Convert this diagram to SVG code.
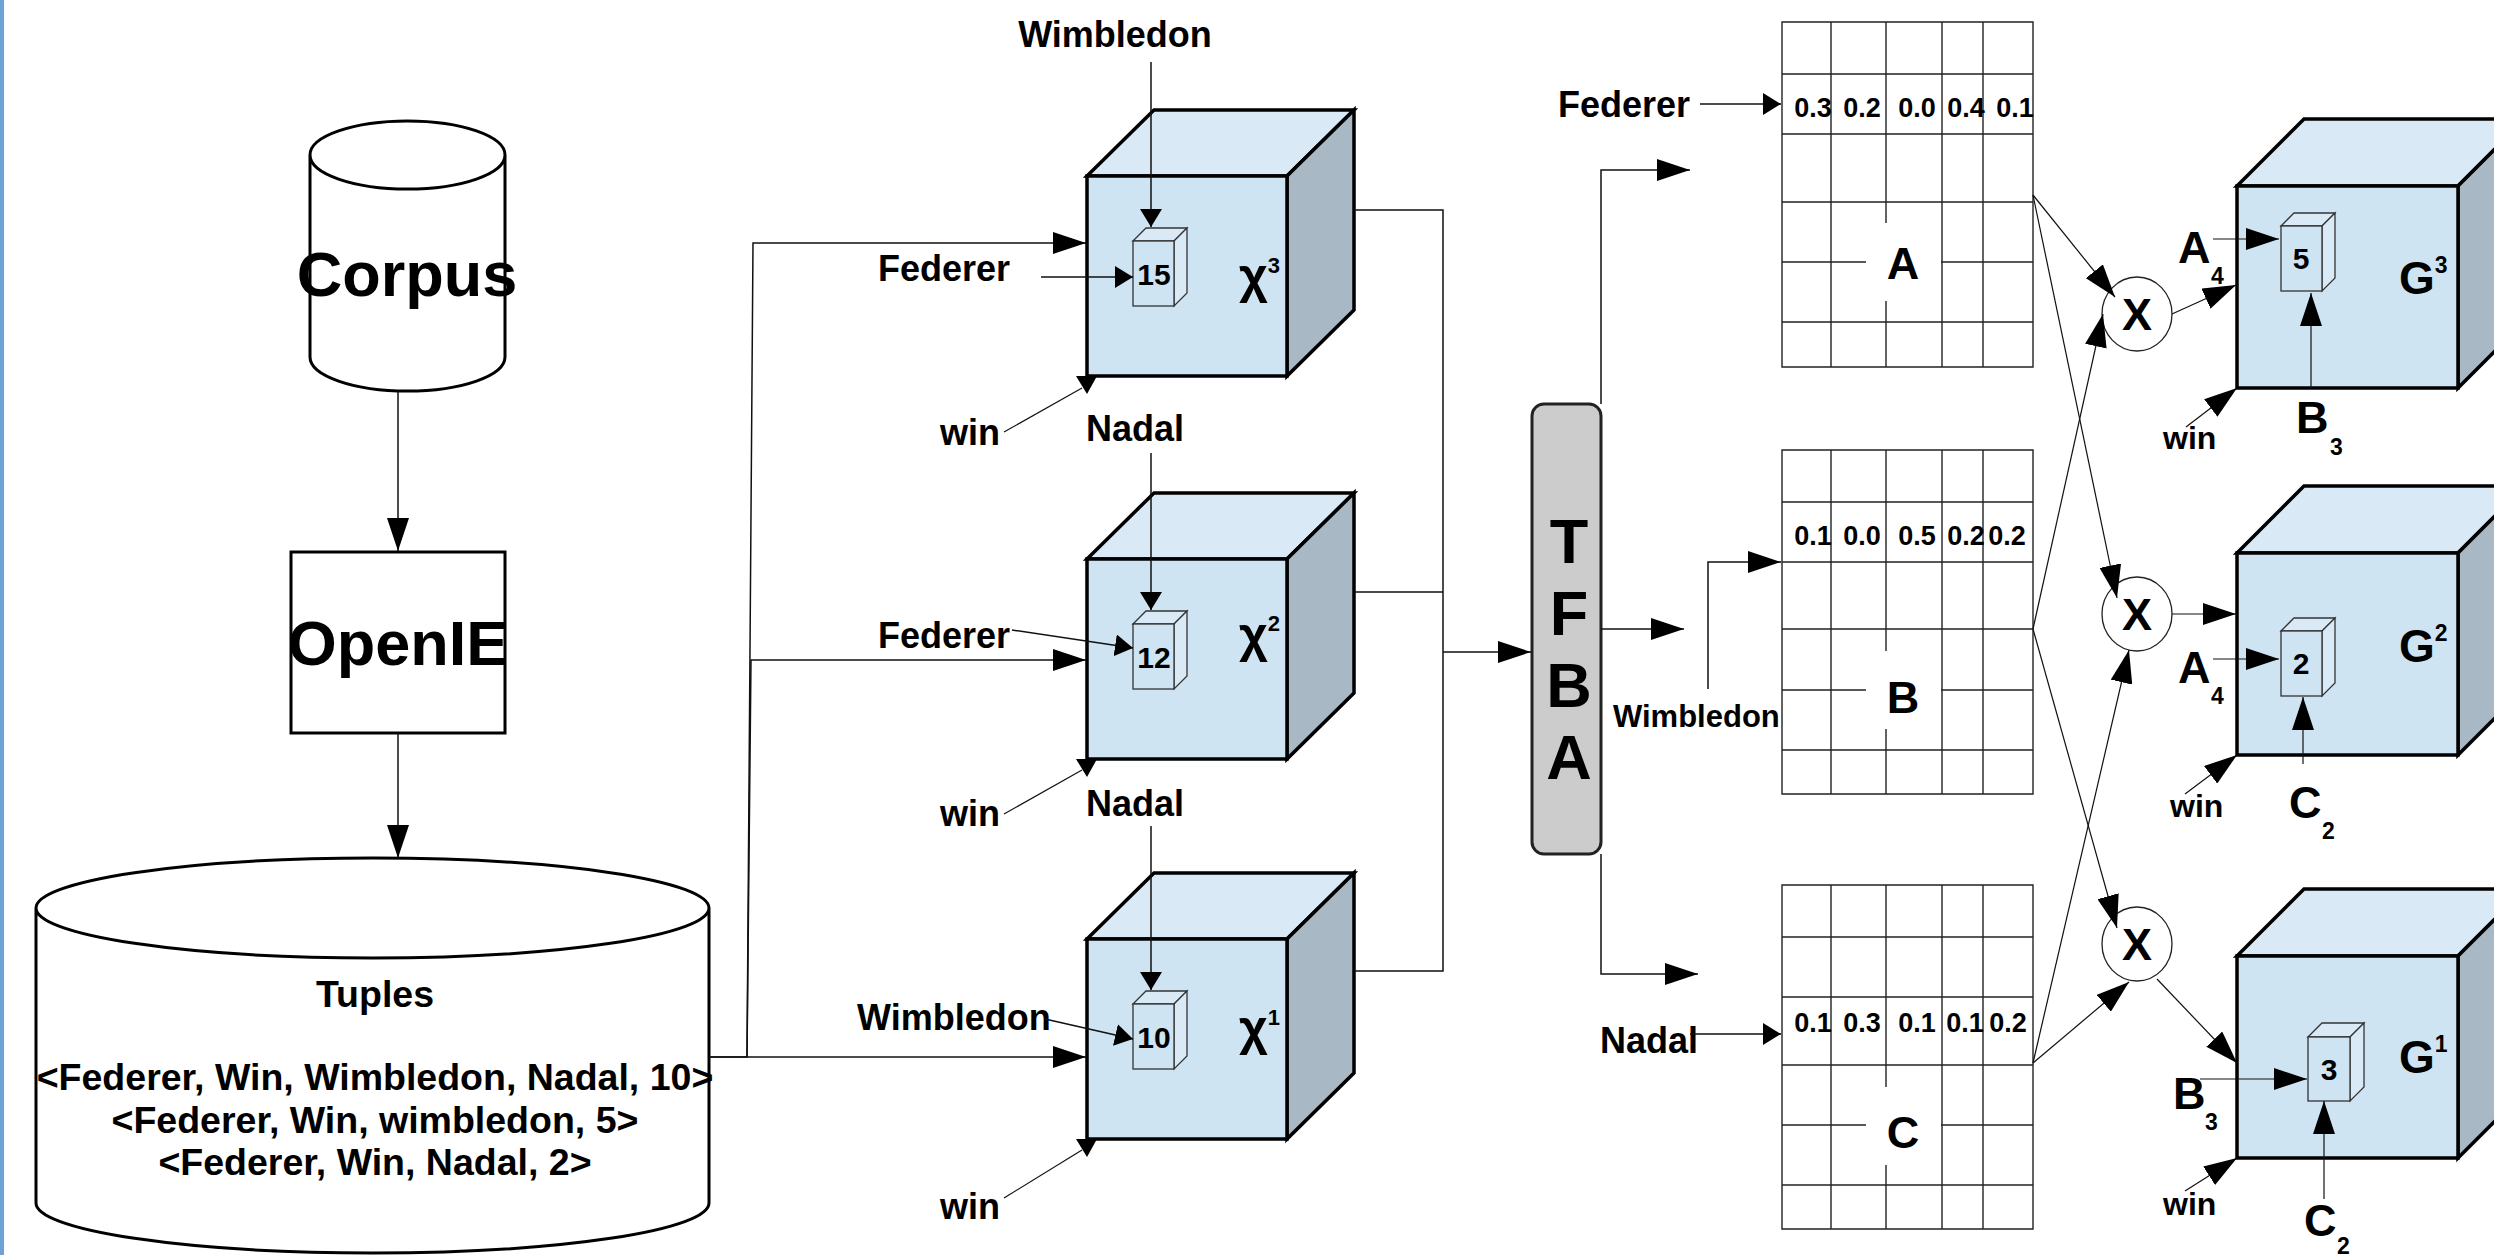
<svg xmlns="http://www.w3.org/2000/svg" width="2494" height="1255" viewBox="0 0 2494 1255">
<style>
text{font-family:"Liberation Sans",Arial,sans-serif;font-weight:bold;fill:#000}
.ln{fill:none;stroke:#111;stroke-width:1.5}
.thin{fill:none;stroke:#111;stroke-width:1.2}
.shape{fill:#fff;stroke:#000;stroke-width:3}
.front{fill:#cfe4f2;stroke:#000;stroke-width:3.5;stroke-linejoin:miter}
.top{fill:#d9eaf6;stroke:#000;stroke-width:3.5}
.side{fill:#a8b9c5;stroke:#000;stroke-width:3.5}
.sf{fill:#cfe4f2;stroke:#333;stroke-width:1.3}
.st{fill:#d9eaf6;stroke:#333;stroke-width:1.3}
.grid{fill:none;stroke:#222;stroke-width:1.4}
.circ{fill:#fff;stroke:#222;stroke-width:1.3}
.big{font-size:63px}
.lbl{font-size:36px}
.tup{font-size:37.5px}
.val{font-size:27px}
.num{font-size:30px;text-anchor:middle}
.mid{text-anchor:middle}
</style>
<defs>
<marker id="big" markerWidth="34" markerHeight="22" refX="33" refY="11" orient="auto" markerUnits="userSpaceOnUse"><path d="M0,0L33,11L0,22z" fill="#000"/></marker>
<marker id="sm" markerWidth="19" markerHeight="22" refX="18" refY="11" orient="auto" markerUnits="userSpaceOnUse"><path d="M0,0L18,11L0,22z" fill="#000"/></marker>
</defs>
<rect x="0" y="0" width="4" height="1255" fill="#6fa3d8"/>

<g id="corpus">
<path class="shape" d="M310,155 V357 A97.5,34 0 0 0 505,357 V155 A97.5,34 0 0 0 310,155 A97.5,34 0 0 0 505,155"/>
<text class="big mid" x="407" y="296">Corpus</text>
</g>
<g id="openie">
<rect class="shape" x="291" y="552" width="214" height="181"/>
<text class="big mid" x="398" y="665">OpenIE</text>
</g>
<g id="tuples">
<path class="shape" d="M36,908 V1203 A336.5,50 0 0 0 709,1203 V908 A336.5,50 0 0 0 36,908 A336.5,50 0 0 0 709,908"/>
<text class="tup mid" x="375" y="1007">Tuples</text>
<text class="tup mid" x="375" y="1090">&lt;Federer, Win, Wimbledon, Nadal, 10&gt;</text>
<text class="tup mid" x="375" y="1133">&lt;Federer, Win, wimbledon, 5&gt;</text>
<text class="tup mid" x="375" y="1175">&lt;Federer, Win, Nadal, 2&gt;</text>
</g>

<g id="cube-x3">
<polygon class="top" points="1087,176 1154,110 1354,110 1287,176"/>
<polygon class="side" points="1287,176 1354,110 1354,310 1287,376"/>
<rect class="front" x="1087" y="176" width="200" height="200"/>
<polygon class="st" points="1133,241 1146,228 1187,228 1174,241"/>
<polygon class="st" points="1174,241 1187,228 1187,293 1174,306"/>
<rect class="sf" x="1133" y="241" width="41" height="65"/>
<text class="num" x="1154" y="285">15</text>
<text x="1239" y="293" style="font-size:50px">χ<tspan dy="-20" style="font-size:22px">3</tspan></text>
</g>
<g id="cube-x2">
<polygon class="top" points="1087,559 1154,493 1354,493 1287,559"/>
<polygon class="side" points="1287,559 1354,493 1354,693 1287,759"/>
<rect class="front" x="1087" y="559" width="200" height="200"/>
<polygon class="st" points="1133,624 1146,611 1187,611 1174,624"/>
<polygon class="st" points="1174,624 1187,611 1187,676 1174,689"/>
<rect class="sf" x="1133" y="624" width="41" height="65"/>
<text class="num" x="1154" y="668">12</text>
<text x="1239" y="652" style="font-size:50px">χ<tspan dy="-21" style="font-size:22px">2</tspan></text>
</g>
<g id="cube-x1">
<polygon class="top" points="1087,939 1154,873 1354,873 1287,939"/>
<polygon class="side" points="1287,939 1354,873 1354,1073 1287,1139"/>
<rect class="front" x="1087" y="939" width="200" height="200"/>
<polygon class="st" points="1133,1004 1146,991 1187,991 1174,1004"/>
<polygon class="st" points="1174,1004 1187,991 1187,1056 1174,1069"/>
<rect class="sf" x="1133" y="1004" width="41" height="65"/>
<text class="num" x="1154" y="1048">10</text>
<text x="1239" y="1045" style="font-size:50px">χ<tspan dy="-20" style="font-size:22px">1</tspan></text>
</g>

<g id="x-labels">
<text class="lbl mid" x="1115" y="47">Wimbledon</text>
<text class="lbl" x="878" y="281">Federer</text>
<text class="lbl" x="940" y="445">win</text>
<text class="lbl" x="1086" y="441">Nadal</text>
<text class="lbl" x="878" y="648">Federer</text>
<text class="lbl" x="940" y="826">win</text>
<text class="lbl" x="1086" y="816">Nadal</text>
<text class="lbl" x="857" y="1030">Wimbledon</text>
<text class="lbl" x="940" y="1219">win</text>
</g>

<g id="tfba">
<rect x="1532" y="404" width="69" height="450" rx="12" fill="#cccccc" stroke="#222" stroke-width="3"/>
<text class="mid" x="1569" y="563" style="font-size:63px">T</text>
<text class="mid" x="1569" y="635" style="font-size:63px">F</text>
<text class="mid" x="1569" y="707" style="font-size:63px">B</text>
<text class="mid" x="1569" y="779" style="font-size:63px">A</text>
</g>

<g id="matrix-a">
<rect x="1782" y="22" width="251" height="345" fill="#fff"/>
<path class="grid" d="M1782,22H2033V367H1782Z M1831,22V367 M1886,22V367 M1942,22V367 M1983,22V367 M1782,74H2033 M1782,134H2033 M1782,202H2033 M1782,262H2033 M1782,322H2033"/>
<rect x="1866" y="223" width="75" height="78" fill="#fff"/>
<text class="mid" x="1903" y="279" style="font-size:45px">A</text>
<text class="val mid" x="1813" y="117">0.3</text>
<text class="val mid" x="1862" y="117">0.2</text>
<text class="val mid" x="1917" y="117">0.0</text>
<text class="val mid" x="1966" y="117">0.4</text>
<text class="val mid" x="2015" y="117">0.1</text>
<text class="lbl" x="1558" y="117">Federer</text>
</g>
<g id="matrix-b">
<rect x="1782" y="450" width="251" height="344" fill="#fff"/>
<path class="grid" d="M1782,450H2033V794H1782Z M1831,450V794 M1886,450V794 M1942,450V794 M1983,450V794 M1782,502H2033 M1782,562H2033 M1782,629H2033 M1782,690H2033 M1782,750H2033"/>
<rect x="1866" y="651" width="75" height="78" fill="#fff"/>
<text class="mid" x="1903" y="713" style="font-size:45px">B</text>
<text class="val mid" x="1813" y="545">0.1</text>
<text class="val mid" x="1862" y="545">0.0</text>
<text class="val mid" x="1917" y="545">0.5</text>
<text class="val mid" x="1966" y="545">0.2</text>
<text class="val mid" x="2007" y="545">0.2</text>
<text x="1613" y="727" style="font-size:31px">Wimbledon</text>
</g>
<g id="matrix-c">
<rect x="1782" y="885" width="251" height="344" fill="#fff"/>
<path class="grid" d="M1782,885H2033V1229H1782Z M1831,885V1229 M1886,885V1229 M1942,885V1229 M1983,885V1229 M1782,937H2033 M1782,997H2033 M1782,1065H2033 M1782,1125H2033 M1782,1185H2033"/>
<rect x="1866" y="1087" width="75" height="78" fill="#fff"/>
<text class="mid" x="1903" y="1148" style="font-size:45px">C</text>
<text class="val mid" x="1813" y="1032">0.1</text>
<text class="val mid" x="1862" y="1032">0.3</text>
<text class="val mid" x="1917" y="1032">0.1</text>
<text class="val mid" x="1965" y="1032">0.1</text>
<text class="val mid" x="2008" y="1032">0.2</text>
<text class="lbl" x="1600" y="1053">Nadal</text>
</g>

<g id="mult-1"><ellipse class="circ" cx="2137" cy="314" rx="35" ry="37"/><text class="mid" x="2137" y="330" style="font-size:45px">X</text></g>
<g id="mult-2"><ellipse class="circ" cx="2137" cy="614" rx="35" ry="37"/><text class="mid" x="2137" y="630" style="font-size:45px">X</text></g>
<g id="mult-3"><ellipse class="circ" cx="2137" cy="944" rx="35" ry="37"/><text class="mid" x="2137" y="960" style="font-size:45px">X</text></g>

<g id="cube-g3">
<polygon class="top" points="2237,186 2304,119 2525,119 2458,186"/>
<polygon class="side" points="2458,186 2525,119 2525,321 2458,388"/>
<rect class="front" x="2237" y="186" width="221" height="202"/>
<polygon class="st" points="2281,226 2294,213 2335,213 2322,226"/>
<polygon class="st" points="2322,226 2335,213 2335,278 2322,291"/>
<rect class="sf" x="2281" y="226" width="41" height="65"/>
<text class="num" x="2301" y="269">5</text>
<text x="2399" y="294" style="font-size:46px">G<tspan dy="-21" style="font-size:23px">3</tspan></text>
</g>
<g id="cube-g2">
<polygon class="top" points="2237,553 2304,486 2525,486 2458,553"/>
<polygon class="side" points="2458,553 2525,486 2525,688 2458,755"/>
<rect class="front" x="2237" y="553" width="221" height="202"/>
<polygon class="st" points="2281,631 2294,618 2335,618 2322,631"/>
<polygon class="st" points="2322,631 2335,618 2335,683 2322,696"/>
<rect class="sf" x="2281" y="631" width="41" height="65"/>
<text class="num" x="2301" y="674">2</text>
<text x="2399" y="662" style="font-size:46px">G<tspan dy="-21" style="font-size:23px">2</tspan></text>
</g>
<g id="cube-g1">
<polygon class="top" points="2237,956 2304,889 2525,889 2458,956"/>
<polygon class="side" points="2458,956 2525,889 2525,1091 2458,1158"/>
<rect class="front" x="2237" y="956" width="221" height="202"/>
<polygon class="st" points="2308,1037 2322,1023 2364,1023 2350,1037"/>
<polygon class="st" points="2350,1037 2364,1023 2364,1087 2350,1101"/>
<rect class="sf" x="2308" y="1037" width="42" height="64"/>
<text class="num" x="2329" y="1080">3</text>
<text x="2399" y="1073" style="font-size:46px">G<tspan dy="-21" style="font-size:23px">1</tspan></text>
</g>

<g id="g-labels">
<text x="2178" y="263" style="font-size:45px">A<tspan x="2211" y="284" style="font-size:23px">4</tspan></text>
<text x="2296" y="433" style="font-size:45px">B<tspan x="2330" y="455" style="font-size:23px">3</tspan></text>
<text x="2163" y="449" style="font-size:32px">win</text>
<text x="2178" y="683" style="font-size:45px">A<tspan x="2211" y="704" style="font-size:23px">4</tspan></text>
<text x="2289" y="818" style="font-size:45px">C<tspan x="2322" y="839" style="font-size:23px">2</tspan></text>
<text x="2170" y="817" style="font-size:32px">win</text>
<text x="2173" y="1109" style="font-size:45px">B<tspan x="2205" y="1130" style="font-size:23px">3</tspan></text>
<text x="2304" y="1236" style="font-size:45px">C<tspan x="2337" y="1254" style="font-size:23px">2</tspan></text>
<text x="2163" y="1215" style="font-size:32px">win</text>
</g>

<g id="connectors">
<path class="ln" d="M398,391V551" marker-end="url(#big)"/>
<path class="ln" d="M398,733V858" marker-end="url(#big)"/>
<path class="ln" d="M709,1057H747L753,243H1086" marker-end="url(#big)"/>
<path class="ln" d="M747,1057L751,660H1086" marker-end="url(#big)"/>
<path class="ln" d="M709,1057H1086" marker-end="url(#big)"/>
<path class="ln" d="M1151,62V227" marker-end="url(#sm)"/>
<path class="ln" d="M1041,277H1133" marker-end="url(#sm)"/>
<path class="thin" d="M1004,432L1082,388"/>
<polygon points="1076,376 1097,376 1087,394" fill="#000"/>
<path class="ln" d="M1151,453V610" marker-end="url(#sm)"/>
<path class="ln" d="M1012,630L1133,648" marker-end="url(#sm)"/>
<path class="thin" d="M1004,814L1082,770"/>
<polygon points="1076,759 1097,759 1087,777" fill="#000"/>
<path class="ln" d="M1151,826V990" marker-end="url(#sm)"/>
<path class="ln" d="M1045,1019L1133,1039" marker-end="url(#sm)"/>
<path class="thin" d="M1004,1198L1082,1150"/>
<polygon points="1076,1139 1097,1139 1087,1157" fill="#000"/>
<path class="ln" d="M1354,210H1443V971H1354 M1354,592H1443"/>
<path class="ln" d="M1443,652H1531" marker-end="url(#big)"/>
<path class="ln" d="M1601,404V170H1690" marker-end="url(#big)"/>
<path class="ln" d="M1601,629H1684" marker-end="url(#big)"/>
<path class="ln" d="M1601,854V974H1698" marker-end="url(#big)"/>
<path class="ln" d="M1700,104H1781" marker-end="url(#sm)"/>
<path class="ln" d="M1708,689V562H1781" marker-end="url(#big)"/>
<path class="ln" d="M1690,1034H1781" marker-end="url(#sm)"/>
<path class="thin" d="M2033,195L2115,297" marker-end="url(#big)"/>
<path class="thin" d="M2033,195L2117,598" marker-end="url(#big)"/>
<path class="thin" d="M2033,629L2103,314" marker-end="url(#big)"/>
<path class="thin" d="M2033,629L2117,928" marker-end="url(#big)"/>
<path class="thin" d="M2033,1063L2129,650" marker-end="url(#big)"/>
<path class="thin" d="M2033,1063L2129,982" marker-end="url(#big)"/>
<path class="thin" d="M2172,314L2236,285" marker-end="url(#big)"/>
<path class="thin" d="M2172,614H2236" marker-end="url(#big)"/>
<path class="thin" d="M2157,979L2237,1063" marker-end="url(#big)"/>
<path class="thin" d="M2213,239H2279" marker-end="url(#big)"/>
<path class="thin" d="M2311,388V293" marker-end="url(#big)"/>
<path class="thin" d="M2186,427L2237,388" marker-end="url(#big)"/>
<path class="thin" d="M2213,659H2279" marker-end="url(#big)"/>
<path class="thin" d="M2303,764V697" marker-end="url(#big)"/>
<path class="thin" d="M2185,794L2237,755" marker-end="url(#big)"/>
<path class="thin" d="M2200,1079H2307" marker-end="url(#big)"/>
<path class="thin" d="M2324,1199V1101" marker-end="url(#big)"/>
<path class="thin" d="M2185,1191L2237,1158" marker-end="url(#big)"/>
</g>
</svg>
